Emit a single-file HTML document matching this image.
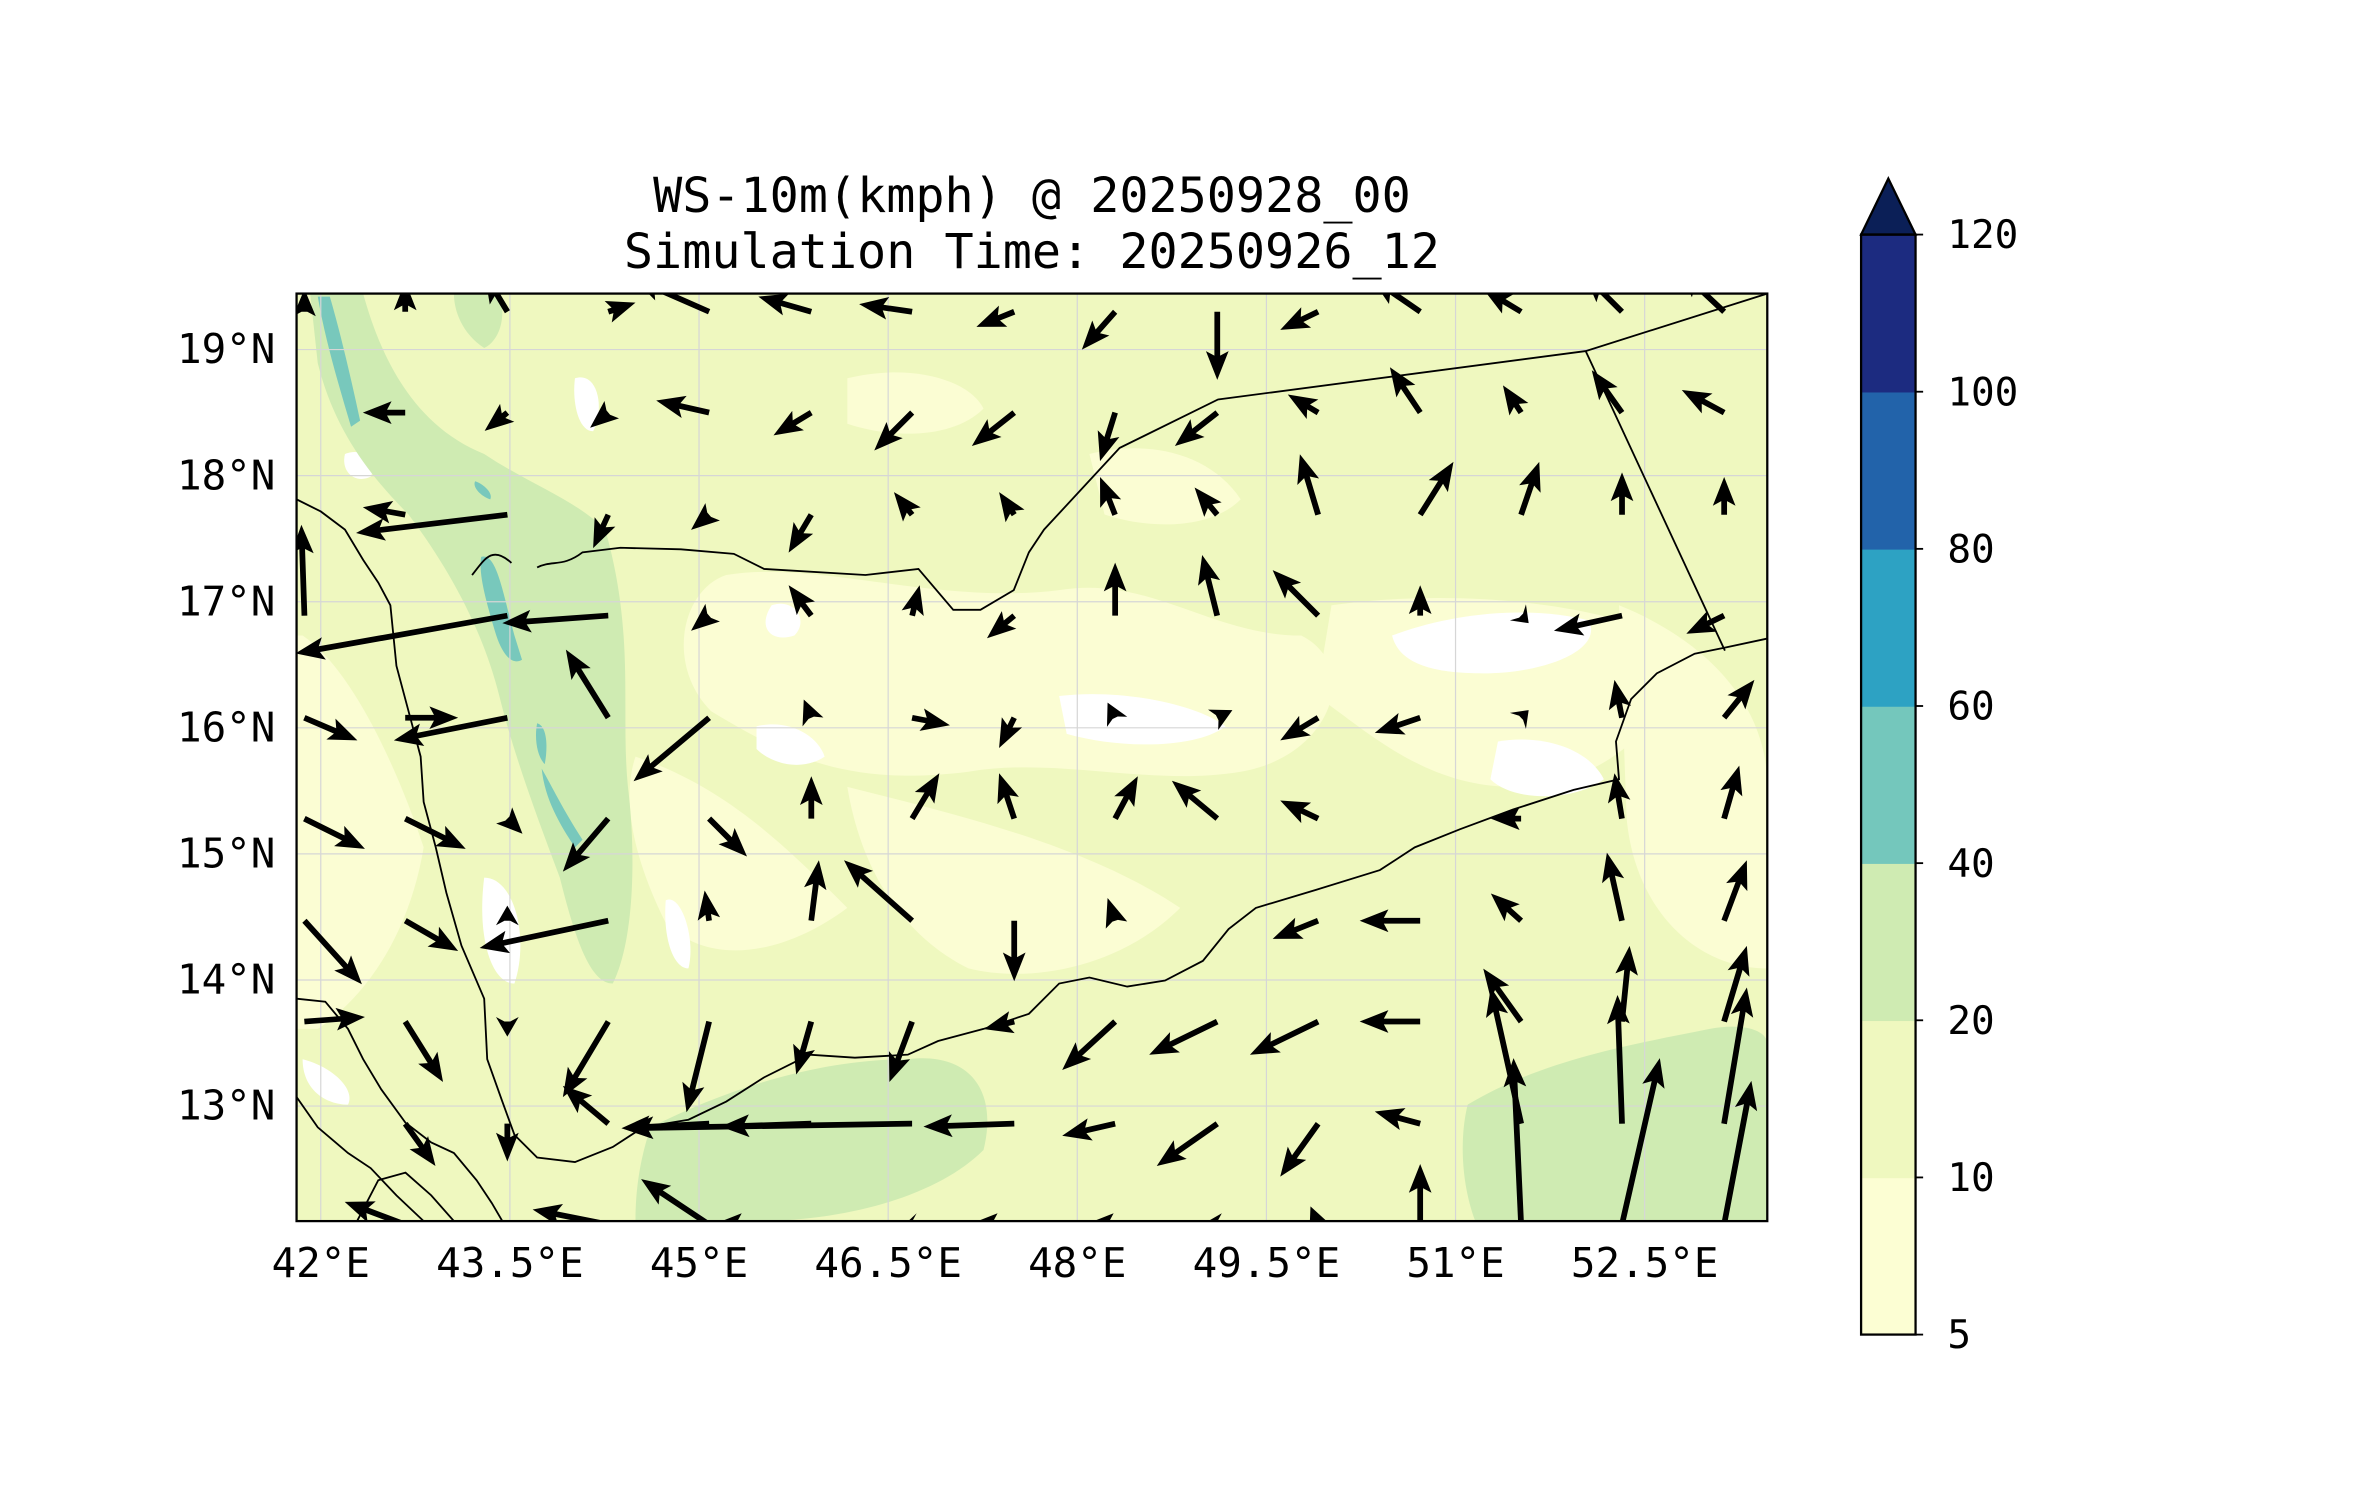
<!DOCTYPE html>
<html><head><meta charset="utf-8">
<style>
html,body{margin:0;padding:0;background:#fff;}
svg{display:block;}
text{font-family:"DejaVu Sans Mono","Liberation Mono",monospace;fill:#000;}
</style></head>
<body>
<svg id="fig" width="2371" height="1500" viewBox="0 0 1567 991.3" xmlns="http://www.w3.org/2000/svg">
<defs>
<clipPath id="mapclip"><rect x="196" y="194" width="972" height="613"/></clipPath>
</defs>
<text x="682" y="140" font-size="32" text-anchor="middle">WS-10m(kmph) @ 20250928_00</text>
<text x="682" y="177" font-size="32" text-anchor="middle">Simulation Time: 20250926_12</text>

<g clip-path="url(#mapclip)">
<rect x="196" y="194" width="972" height="613" fill="#eff8bf"/>
<g fill="#fbfdd3">
<path d="M480,380 C540,370 620,400 700,390 C760,380 800,420 860,420 C900,440 880,500 820,510 C760,520 700,500 640,510 C560,520 520,500 470,470 C440,440 450,390 480,380Z"/>
<path d="M880,400 C950,390 1040,395 1100,420 C1120,460 1070,520 1000,520 C940,520 900,480 870,460Z"/>
<path d="M420,500 C480,520 520,560 560,600 C520,630 470,640 440,610 C420,570 410,530 420,500Z"/>
<path d="M560,520 C640,540 720,560 780,600 C740,640 680,650 640,640 C600,620 570,580 560,520Z"/>
<path d="M1070,400 C1120,420 1168,460 1168,520 L1168,640 C1120,640 1080,600 1075,540Z"/>
<path d="M200,420 C230,440 260,500 280,560 C270,620 240,660 210,680 L196,680 L196,420Z"/>
<path d="M720,300 C760,290 800,300 820,330 C800,350 760,350 730,340Z"/>
<path d="M560,250 C600,240 640,250 650,270 C630,290 590,290 560,280Z"/>
</g>
<g fill="#ffffff">
<path d="M920,420 C960,405 1010,400 1050,410 C1060,430 1020,445 980,445 C950,445 925,440 920,420Z"/>
<path d="M990,490 C1020,485 1050,495 1060,515 C1040,530 1000,530 985,515Z"/>
<path d="M700,460 C740,455 790,465 810,480 C790,495 740,495 705,485Z"/>
<path d="M500,480 C520,475 540,485 545,500 C530,510 510,505 500,495Z"/>
<path d="M510,400 C525,395 535,410 525,420 C510,425 500,415 510,400Z"/>
<path d="M228,300 C240,295 250,305 245,315 C235,320 225,312 228,300Z"/>
<path d="M320,580 C340,580 350,620 340,650 C325,650 315,620 320,580Z"/>
<path d="M440,595 C450,590 460,620 455,640 C445,640 438,620 440,595Z"/>
<path d="M380,250 C395,245 400,270 392,285 C382,285 378,265 380,250Z"/>
<path d="M200,700 C220,705 235,720 230,730 C215,730 200,720 200,700Z"/>
</g>
<g fill="#cfebb2">
<path d="M205,194 L240,194 C250,230 270,280 320,300 C350,320 380,330 400,350 C420,420 410,470 415,520 C420,560 420,620 405,650 C390,650 380,620 370,580 C355,540 340,500 330,460 C320,420 300,380 270,340 C240,310 220,280 210,240Z"/>
<path d="M430,745 C480,720 540,700 600,700 C640,695 660,720 650,760 C620,790 560,807 500,807 L420,807 C420,780 425,760 430,745Z"/>
<path d="M970,730 C1020,700 1080,690 1130,680 C1150,676 1168,680 1168,690 L1168,807 L975,807 C965,780 965,750 970,730Z"/>
<path d="M300,194 L330,194 C335,210 330,225 320,230 C305,220 300,205 300,194Z"/>
</g>
<g fill="#78c8bc">
<path d="M210,196 L218,196 C225,220 232,250 238,278 L232,282 C224,255 215,225 210,196Z"/>
<path d="M318,368 C328,365 332,390 340,420 L345,436 C338,440 332,432 328,420 C322,400 316,380 318,368Z"/>
<path d="M355,478 C362,480 362,495 360,505 C355,500 353,488 355,478Z"/>
<path d="M358,508 C365,520 372,535 385,555 L380,560 C370,545 360,528 358,508Z"/>
<path d="M314,318 C320,320 326,326 324,330 C318,328 312,322 314,318Z"/>
</g>
<g stroke="#d6d6d6" stroke-width="0.8" fill="none" id="grid"></g>
<g stroke="#000" stroke-width="1.2" fill="none">
<path d="M1168,422 L1140,428 L1120,432 L1095,445 L1078,462 L1068,490 L1070,515 L1040,522 L1000,535 L965,548 L935,560 L912,575 L870,588 L830,600 L812,614 L795,635 L770,648 L745,652 L720,646 L700,650 L680,670 L650,680 L620,688 L600,697 L565,699 L535,697 L505,712 L480,728 L455,740 L425,745 L405,758 L380,768 L355,765 L340,750 L332,728 L322,700 L320,660 L305,625 L295,590 L288,560 L280,530 L278,500 L270,470 L262,440 L258,400 L250,385 L240,370 L228,350 L212,338 L196,330"/>
<path d="M355,375 C365,370 372,375 385,365 L410,362 L450,363 L485,366 L505,376 L572,380 L607,376 L630,403 L648,403 L670,390 L680,365 L690,350 L740,296 L805,264 L1048,232 L1168,194"/>
<path d="M1048,232 L1140,430"/>
<path d="M338,372 C325,360 320,370 312,380"/>
<path d="M196,660 L215,662 L230,680 L240,700 L252,720 L268,742 L285,755 L300,762 L315,780 L325,795 L332,807"/>
<path d="M196,725 L210,745 L230,762 L245,772 L262,790 L280,807"/>
<path d="M236,807 L250,780 L268,775 L285,790 L300,807"/>
</g>
<g id="arrows"></g>
</g>
<rect x="196" y="194" width="972" height="613" fill="none" stroke="#000" stroke-width="1.5"/>
<g id="ticks"></g>
<g id="cbar"></g>
</svg>
<script>
// Wind grid (lon/lat of arrow tails) and components (east, north), display units
const gridLons = [41.87,42.67,43.48,44.28,45.08,45.89,46.69,47.50,48.30,49.11,49.91,50.72,51.52,52.32,53.13];
const gridLats = [19.30,18.50,17.69,16.89,16.08,15.28,14.47,13.67,12.86,12.06];
const windU = [
 [0,0,-15,18,-50,-35,-35,-25,-22,0,-25,-32,-25,-25,-30],
 [0,-28,-15,-12,-35,-25,-25,-28,-10,-28,-20,-20,-12,-20,-28],
 [0,-28,-100,-10,-12,-15,-12,-10,-10,-15,-12,22,12,0,0],
 [-2,0,-140,-70,-12,-15,5,-18,0,-10,-30,0,5,-45,-25],
 [35,35,-75,-28,-50,-5,25,-10,-5,10,-25,-30,5,-5,20],
 [40,40,10,-30,25,0,18,-10,15,-30,-25,0,-20,-5,10],
 [38,35,0,-85,-3,5,-45,0,-5,0,-30,-40,-20,-10,15],
 [40,25,0,-30,-15,-10,-15,-20,-35,-45,-45,-40,-25,5,15],
 [0,20,0,-30,-58,-60,-190,-60,-35,-40,-25,-30,-20,-3,15],
 [0,-40,0,-50,-45,-65,-5,-30,-20,-10,-5,0,-5,25,18]
];
const windV = [
 [15,20,25,6,22,10,5,-10,-25,-45,-12,22,15,25,28],
 [0,0,-12,-10,8,-15,-25,-22,-32,-22,12,30,18,28,15],
 [0,5,-12,-22,-10,-25,15,15,25,18,40,35,35,28,25],
 [60,0,-25,-5,-10,20,20,-15,35,40,30,20,-5,-10,-12],
 [-15,0,-15,45,-42,12,-5,-20,10,5,-15,-10,5,25,25],
 [-20,-20,-10,-35,-25,28,30,30,28,25,12,0,0,30,35],
 [-42,-20,10,-18,20,40,40,-40,15,0,-12,0,18,45,40],
 [3,-40,-10,-50,-60,-35,-40,-5,-32,-22,-22,0,35,50,50],
 [0,-28,-25,25,-3,-2,-3,-2,-8,-28,-35,8,90,85,90],
 [0,15,0,10,30,0,0,0,0,0,12,40,110,110,95]
];
const latTicks = [19,18,17,16,15,14,13];
const lonTicks = [42,43.5,45,46.5,48,49.5,51,52.5];
const cbLevels = [5,10,20,40,60,80,100,120];
const cbColors = ["#fcfed3","#eff8bf","#cfebb2","#74c7bc","#2da2c3","#2263aa","#1c2b80"];

const NS="http://www.w3.org/2000/svg";
function xOf(lon){return 212+(lon-42)*83.33;}
function yOf(lat){return 231+(19-lat)*83.33;}
function mk(tag,attrs,parent){const e=document.createElementNS(NS,tag);for(const k in attrs)e.setAttribute(k,attrs[k]);parent.appendChild(e);return e;}

const grid=document.getElementById('grid');
latTicks.forEach(function(l){const ln=mk('line',{x1:196,x2:1168,y1:yOf(l),y2:yOf(l)},grid);

});
lonTicks.forEach(function(l){const ln=mk('line',{y1:194,y2:807,x1:xOf(l),x2:xOf(l)},grid);

});

const ticks=document.getElementById('ticks');
latTicks.forEach(function(l){const t=mk('text',{x:182,y:yOf(l)+9,'font-size':27,'text-anchor':'end'},ticks);t.textContent=l+'°N';

});
lonTicks.forEach(function(l){const t=mk('text',{x:xOf(l),y:844,'font-size':27,'text-anchor':'middle'},ticks);t.textContent=l+'°E';

});

const arrows=document.getElementById('arrows');
for(let j=0;j<gridLats.length;j++){for(let i=0;i<gridLons.length;i++){
 const u=windU[j][i], v=windV[j][i]; const len=Math.hypot(u,v); if(len<2) continue;
 const x0=xOf(gridLons[i]), y0=yOf(gridLats[j]);
 const ux=u/len, uy=-v/len, px=-uy, py=ux;
 const hl=Math.min(16,len), hw=7.5, sw=1.9;
 const bx=x0+ux*(len-hl), by=y0+uy*(len-hl), tx=x0+ux*len, ty=y0+uy*len;
 const pts=[[x0+px*sw,y0+py*sw],[bx+px*sw,by+py*sw],[bx+px*hw-ux*3,by+py*hw-uy*3],[tx,ty],[bx-px*hw-ux*3,by-py*hw-uy*3],[bx-px*sw,by-py*sw],[x0-px*sw,y0-py*sw]];
 const p=mk('polygon',{points:pts.map(q=>q[0].toFixed(1)+','+q[1].toFixed(1)).join(' '),fill:'#000'},arrows);
 
 
}}

const cb=document.getElementById('cbar');
const cbx=1230,cbw=36,cbTop=155,cbBot=882,seg=(cbBot-cbTop)/(cbLevels.length-1);
function cbY(k){return cbBot-k*seg;}
cbColors.forEach(function(c,k){const r=mk('rect',{x:cbx,y:cbY(k+1),width:cbw,height:seg+0.5,fill:c},cb);

});
const tri=mk('polygon',{points:cbx+','+cbTop+' '+(cbx+cbw/2)+',118 '+(cbx+cbw)+','+cbTop,fill:'#0b1f57',stroke:'#000','stroke-width':1.5},cb);


const fr=mk('rect',{x:cbx,y:cbTop,width:cbw,height:cbBot-cbTop,fill:'none',stroke:'#000','stroke-width':1.5},cb);


cbLevels.forEach(function(l,k){const y=cbY(k);mk('line',{x1:cbx+cbw,x2:cbx+cbw+5,y1:y,y2:y,stroke:'#000','stroke-width':1.2},cb);
const t=mk('text',{x:1287,y:y+9,'font-size':26},cb);t.textContent=l;

});
</script>
</body></html>
